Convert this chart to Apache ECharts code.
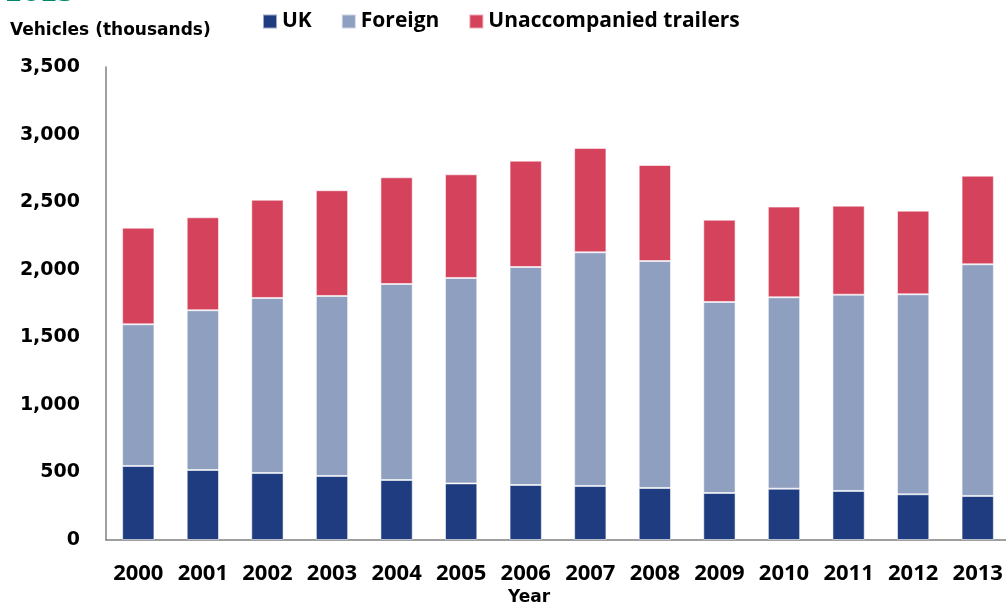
<!DOCTYPE html>
<html>
<head>
<meta charset="utf-8">
<script src="https://cdn.jsdelivr.net/npm/echarts@6/dist/echarts.min.js"></script>
<style>
  html, body { margin: 0; padding: 0; background: #fff; overflow: hidden; }
  /* a few px wider than the window: the plot runs off the right edge in the original */
  #chart { width: 1011px; height: 605px; }
</style>
</head>
<body>
<div id="chart"></div>
<script>
// vehicles (thousands)
const years = ['2000', '2001', '2002', '2003', '2004', '2005', '2006', '2007', '2008', '2009', '2010', '2011', '2012', '2013'];
const ukVals = [548, 518, 496, 474, 444, 419, 407, 400, 385, 348, 380, 363, 338, 326];
const foreignVals = [1048, 1182, 1295, 1332, 1450, 1520, 1613, 1729, 1679, 1413, 1416, 1452, 1480, 1714];
const trailerVals = [715, 688, 727, 782, 790, 767, 787, 772, 711, 609, 671, 659, 619, 656];
const yTicks = [0, 500, 1000, 1500, 2000, 2500, 3000, 3500];

const myChart = echarts.init(document.getElementById('chart'));

const barStyle = (c) => ({
  color: c,
  borderColor: 'rgba(255,255,255,0.55)',
  borderWidth: 1
});

const option = {
  animation: false,
  backgroundColor: '#fff',
  graphic: [
    { // heading cut off at the very top, only its foot shows
      type: 'text', x: 5, y: -6,
      style: { text: '2013', font: 'bold 25px "DejaVu Sans"', fill: '#00876c', verticalAlign: 'middle' }
    },
    {
      type: 'text', left: 10, top: 22,
      style: { text: 'Vehicles (thousands)', font: 'bold 17px "DejaVu Sans"', fill: '#000' }
    },
    {
      type: 'text', left: 508, top: 589,
      style: { text: 'Year', font: 'bold 17px "DejaVu Sans"', fill: '#000' }
    }
  ],
  legend: {
    left: 262,
    top: 11,
    padding: 0,
    itemWidth: 14,
    itemHeight: 14,
    itemGap: 29,
    icon: 'rect',
    textStyle: { fontFamily: 'Open Sans', fontWeight: 'bold', fontSize: 21, color: '#000' },
    data: ['UK', 'Foreign', 'Unaccompanied trailers']
  },
  grid: { left: 106, right: 1, top: 67, bottom: 65, containLabel: false },
  xAxis: {
    type: 'category',
    data: years,
    axisLine: { lineStyle: { color: '#808080', width: 1.5 } },
    axisTick: { show: false },
    axisLabel: {
      interval: 0,
      margin: 23,
      fontFamily: 'Open Sans', fontWeight: 'bold', fontSize: 22, color: '#000'
    }
  },
  yAxis: {
    type: 'value',
    min: 0,
    max: yTicks[yTicks.length - 1],
    interval: 500,
    axisLine: { show: true, lineStyle: { color: '#808080', width: 1.5 } },
    axisTick: { show: false },
    splitLine: { show: false },
    axisLabel: {
      margin: 26,
      fontFamily: 'DejaVu Sans', fontWeight: 'bold', fontSize: 19, color: '#000',
      formatter: (v) => v.toLocaleString('en-GB')
    }
  },
  series: [
    { name: 'UK', type: 'bar', stack: 'all', barCategoryGap: '50%', data: ukVals, itemStyle: barStyle('#1f3c80') },
    { name: 'Foreign', type: 'bar', stack: 'all', data: foreignVals, itemStyle: barStyle('#8f9fc0') },
    { name: 'Unaccompanied trailers', type: 'bar', stack: 'all', data: trailerVals, itemStyle: barStyle('#d4425b') }
  ]
};

myChart.setOption(option);
</script>
</body>
</html>
